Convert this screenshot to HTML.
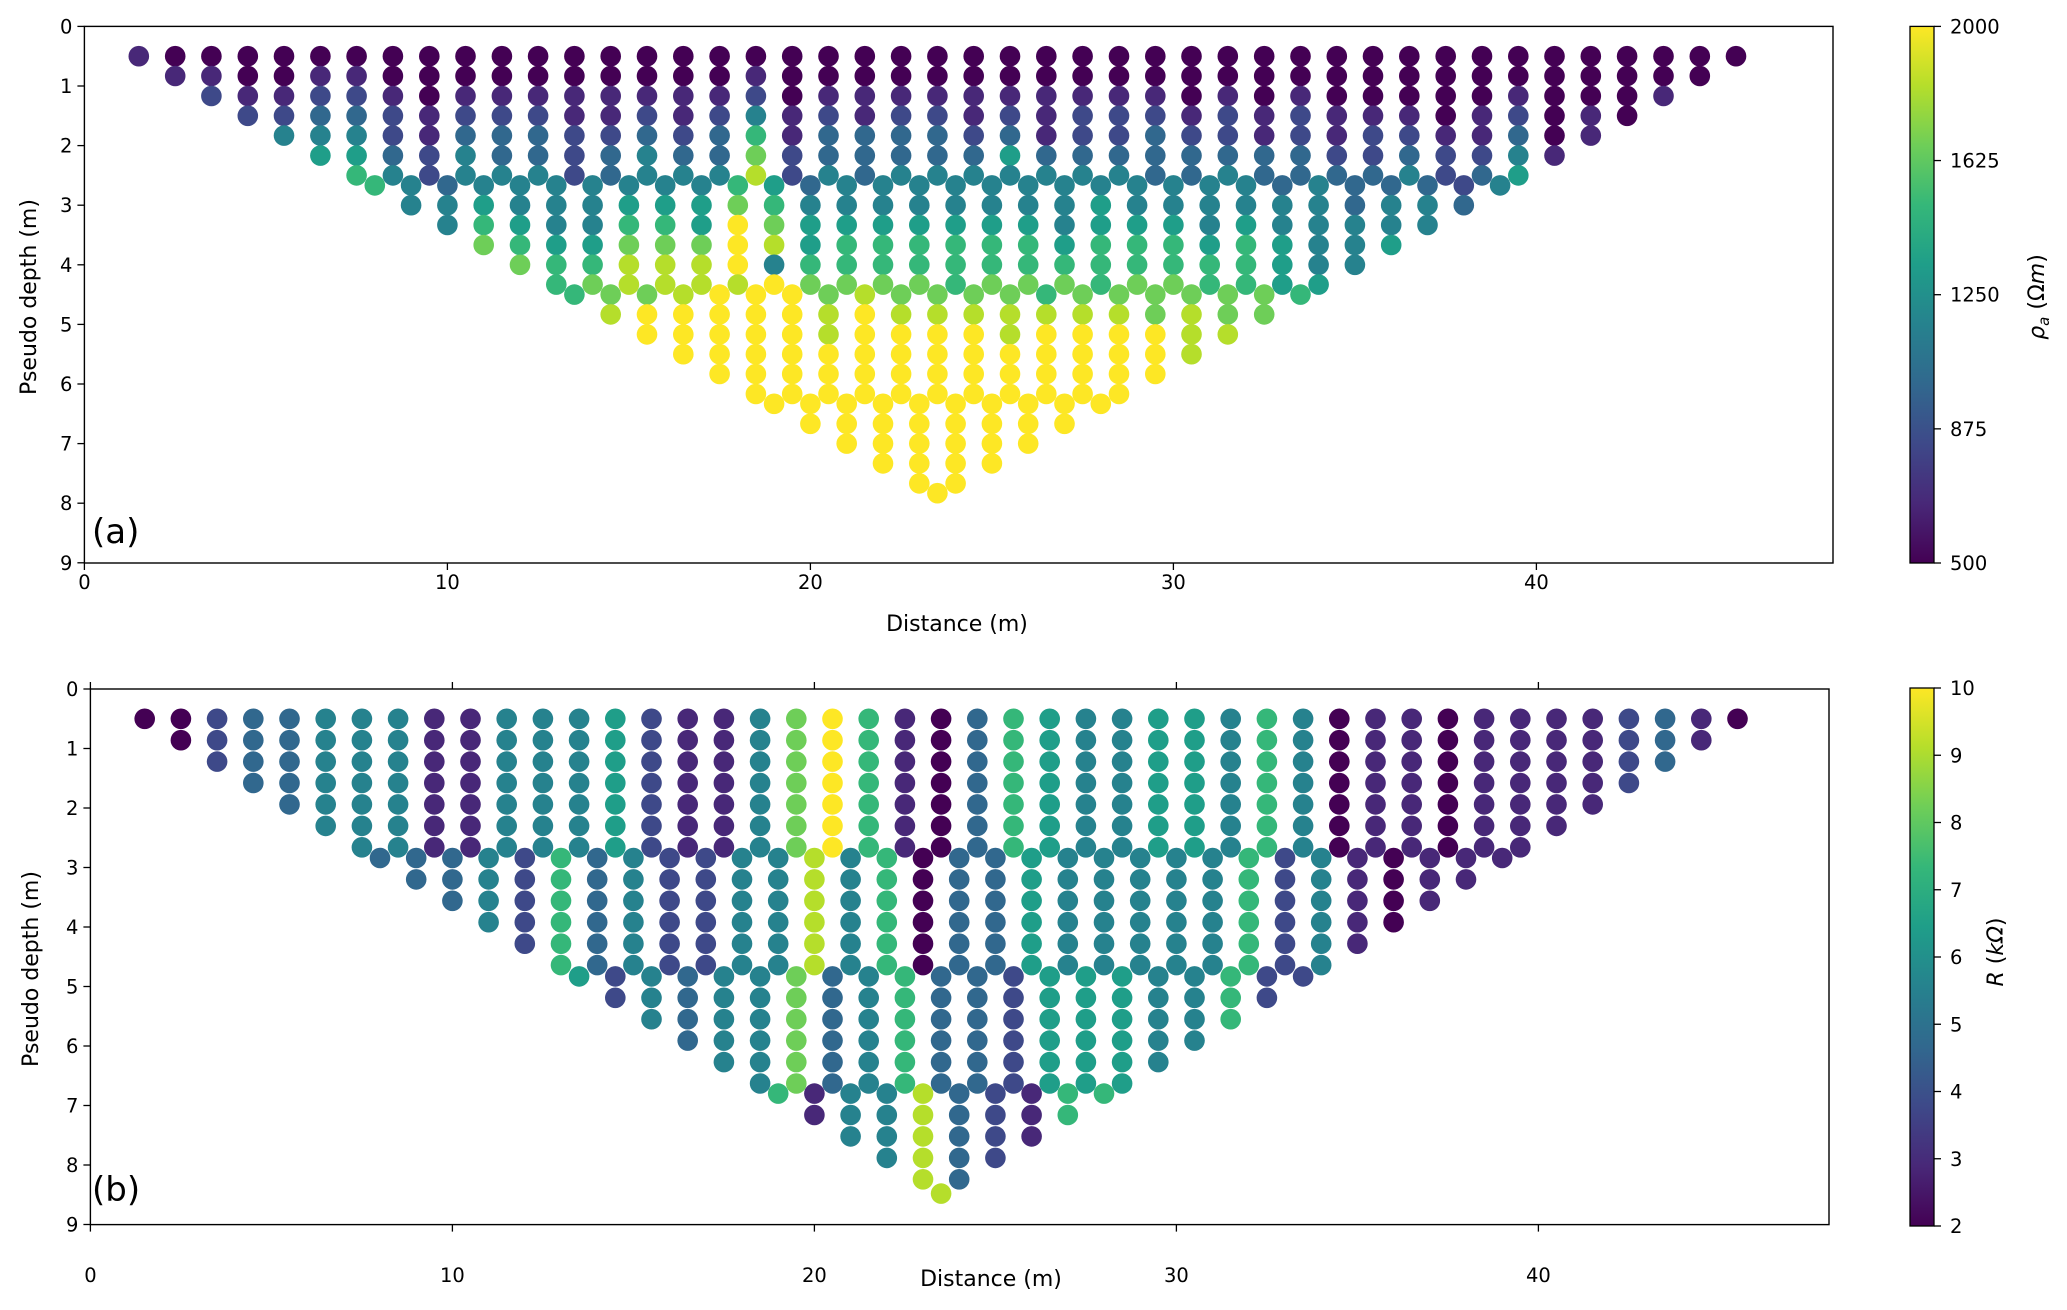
<!DOCTYPE html>
<html><head><meta charset="utf-8"><style>
html,body{margin:0;padding:0;background:#fff;}
svg{display:block;font-family:"DejaVu Sans","Liberation Sans",sans-serif;}
</style></head><body>
<svg id="fig" width="2067" height="1310" viewBox="0 0 2067 1310" xmlns="http://www.w3.org/2000/svg">
<defs>
<linearGradient id="vir" x1="0" y1="1" x2="0" y2="0">
<stop offset="0" stop-color="#440154"/><stop offset="0.111" stop-color="#482878"/><stop offset="0.222" stop-color="#3e4989"/><stop offset="0.333" stop-color="#31688e"/><stop offset="0.444" stop-color="#26828e"/><stop offset="0.556" stop-color="#1f9e89"/><stop offset="0.667" stop-color="#35b779"/><stop offset="0.778" stop-color="#6ece58"/><stop offset="0.889" stop-color="#b5de2b"/><stop offset="1" stop-color="#fde725"/>
</linearGradient>
</defs>
<g id="panelA"></g>
<g id="panelB"></g>
</svg>
<script>
// ---------- data ----------
const aRowDepth = [0.5,0.833,1.167,1.5,1.833,2.167,2.5, 2.667,3,3.333,3.667,4,4.333, 4.5,4.833,5.167,5.5,5.833,6.167, 6.333,6.667,7,7.333,7.667, 7.833];
const aRowStart = [1.5,2.5,3.5,4.5,5.5,6.5,7.5, 8,9,10,11,12,13, 13.5,14.5,15.5,16.5,17.5,18.5, 19,20,21,22,23, 23.5];
// levels 0..9 -> 500..2000 Ohm m
const aRowLevels = [
"10000 00000 00000 00000 00000 00000 00000 00000 00000",
"11001 10000 00000 01000 00000 00000 00000 00000 000",
"21122 1 0 11111111 2 0 1111111111 0 1 0 1 0 0000 1 000 1",
"2233212221 1212412122 1212221212 111012010",
"4442133322 3236133332 3122322121 2211301",
"5532433234 3372333335 3333333322 32241",
"6424442344 4824344444 4433433334 235",
"6434444444 653 444444444444 3433324",
"44544455576 44444444 54444443443",
"4654466597 5555555 4 555 4 5 44444",
"7655777985 6666665666 565445",
"7668889466 6666666666 6544",
"6788889777 7677767766 55",
"6778999787 7776777777 6",
"8999998988 888887877",
"99999899998999988",
"999999999999998",
"9999999999999",
"99999999999",
"9999999999","99999999","999999","9999","99",
"9"];
const aMin = 500, aMax = 2000;
const aXTicks = [0,10,20,30,40];
const aYTicks = [0,1,2,3,4,5,6,7,8,9];
const aCbTicks = [500,875,1250,1625,2000];

// panel b: each group has constant value per column; row j of group uses columns j .. n-1-j
const bGroupDepths = [
 [0.5,0.86,1.22,1.58,1.94,2.3,2.66],
 [2.84,3.2,3.56,3.92,4.28,4.64],
 [4.83,5.19,5.55,5.91,6.27,6.63],
 [6.8,7.16,7.52,7.88,8.24],
 [8.48]];
const bGroupStart = [1.5, 8, 13.5, 19, 23.5];
// levels 0..9 -> 2..10 kOhm
const bGroupColumns = [
 "0023344411 4445211479 6103654455 4640110111 12310",
 "3334263422 4484603354 4444624101 11",
 "5243447346 3325554462 2",
 "6144832166",
 "8"];
const bMin = 2, bMax = 10;
const bXTicks = [0,10,20,30,40];
const bYTicks = [0,1,2,3,4,5,6,7,8,9];
const bCbTicks = [2,3,4,5,6,7,8,9,10];

// ---------- helpers ----------
const NS = "http://www.w3.org/2000/svg";
const VIR = ['#440154','#482878','#3e4989','#31688e','#26828e','#1f9e89','#35b779','#6ece58','#b5de2b','#fde725'];
function hex(c){return [parseInt(c.slice(1,3),16),parseInt(c.slice(3,5),16),parseInt(c.slice(5,7),16)];}
function viridis(t){t=Math.max(0,Math.min(1,t));const p=t*9;const i=Math.min(8,Math.floor(p));const f=p-i;const a=hex(VIR[i]),b=hex(VIR[i+1]);
 return 'rgb('+a.map((v,k)=>Math.round(v+(b[k]-v)*f)).join(',')+')';}
function mk(tag, attrs, parent){const e=document.createElementNS(NS,tag);for(const k in attrs)e.setAttribute(k,attrs[k]);parent.appendChild(e);return e;}
function digits(s){return s.replace(/\s+/g,'').split('').map(Number);}

const A = {g:document.getElementById('panelA'), x0:84.4, sx:36.3, y0:26.4, sy:59.6, left:84.4, right:1833, top:26.4, bottom:563, cbx:1910, cbw:24, cbTop:26.4, cbBot:563};
const B = {g:document.getElementById('panelB'), x0:90.4, sx:36.2, y0:689, sy:59.5, left:90.4, right:1829, top:689, bottom:1224.6, cbx:1910, cbw:24, cbTop:688, cbBot:1226};
function xs(P,v){return P.x0+P.sx*v;}
function ys(P,d){return P.y0+P.sy*d;}

function dot(P, x, d, val, vmin, vmax){
 const c=mk('circle',{cx:xs(P,x).toFixed(1),cy:ys(P,d).toFixed(1),r:10.3,fill:viridis((val-vmin)/(vmax-vmin))},P.g);
 
 
}

// ---------- panel A points ----------
aRowLevels.forEach((s,r)=>{
 digits(s).forEach((lv,i)=>{
  const val = aMin + lv*(aMax-aMin)/9;
  dot(A, aRowStart[r]+i, aRowDepth[r], val, aMin, aMax);
 });
});
// ---------- panel B points ----------
bGroupColumns.forEach((s,g)=>{
 const cols = digits(s);
 const n = cols.length;
 bGroupDepths[g].forEach((d,j)=>{
  for(let i=j;i<n-j;i++){
   const val = bMin + cols[i]*(bMax-bMin)/9;
   dot(B, bGroupStart[g]+i, d, val, bMin, bMax);
  }
 });
});

// ---------- axes ----------
function text(P, x, y, str, size, anchor, name, rot){
 const t=mk('text',{x:x,y:y,'font-size':size,'text-anchor':anchor||'middle',fill:'#000'},P.g);
 if(rot) t.setAttribute('transform','rotate(-90 '+x+' '+y+')');
 t.textContent=str;
 
 
 return t;
}
function axes(P, xticks, yticks, labelY, topTicks){
 const fr=mk('rect',{x:P.left,y:P.top,width:P.right-P.left,height:P.bottom-P.top,fill:'none',stroke:'#000','stroke-width':1.4},P.g);
 
 
 xticks.forEach(v=>{
  const x=xs(P,v);
  const tk=mk('line',{x1:x,x2:x,y1:P.bottom,y2:P.bottom+7,stroke:'#000','stroke-width':1.3},P.g);
  
  
  if(topTicks){
   const tt=mk('line',{x1:x,x2:x,y1:P.top,y2:P.top-7,stroke:'#000','stroke-width':1.3},P.g);
   
   
  }
  text(P,x,labelY,String(v),19.5,'middle','x-tick-label');
 });
 yticks.forEach(v=>{
  const y=ys(P,v);
  const tk=mk('line',{x1:P.left-7,x2:P.left,y1:y,y2:y,stroke:'#000','stroke-width':1.3},P.g);
  
  
  text(P,P.left-12,y+7,String(v),19.5,'end','y-tick-label');
 });
}
axes(A, aXTicks, aYTicks, 589, false);
axes(B, bXTicks, bYTicks, 1282, true);
text(A, 957, 631, 'Distance (m)', 22, 'middle', 'x-axis-title');
text(B, 991, 1286, 'Distance (m)', 22, 'middle', 'x-axis-title');
text(A, 36, 297, 'Pseudo depth (m)', 22, 'middle', 'y-axis-title', true);
text(B, 38, 969, 'Pseudo depth (m)', 22, 'middle', 'y-axis-title', true);
text(A, 92, 543, '(a)', 34, 'start', 'panel-label');
text(B, 92, 1201, '(b)', 34, 'start', 'panel-label');

// ---------- colorbars ----------
function colorbar(P, ticks, vmin, vmax){
 const r=mk('rect',{x:P.cbx,y:P.cbTop,width:P.cbw,height:P.cbBot-P.cbTop,fill:'url(#vir)',stroke:'#000','stroke-width':1.3},P.g);
 
 
 ticks.forEach(v=>{
  const y=P.cbBot-(v-vmin)/(vmax-vmin)*(P.cbBot-P.cbTop);
  const tk=mk('line',{x1:P.cbx+P.cbw,x2:P.cbx+P.cbw+7,y1:y,y2:y,stroke:'#000','stroke-width':1.3},P.g);
  
  
  text(P,P.cbx+P.cbw+16,y+7,String(v),19.5,'start','colorbar-tick-label');
 });
}
colorbar(A, aCbTicks, aMin, aMax);
colorbar(B, bCbTicks, bMin, bMax);

// colorbar titles
(function(){
 const t=mk('text',{x:2044,y:297,'font-size':22,'text-anchor':'middle',transform:'rotate(-90 2044 297)'},A.g);
 
 
 t.innerHTML='<tspan font-style="italic">ρ</tspan><tspan font-style="italic" font-size="15" dy="5">a</tspan><tspan dy="-5"> (Ω</tspan><tspan font-style="italic">m</tspan>)';
 const t2=mk('text',{x:2003,y:952,'font-size':22,'text-anchor':'middle',transform:'rotate(-90 2003 952)'},B.g);
 
 
 t2.innerHTML='<tspan font-style="italic">R</tspan> (<tspan font-style="italic">k</tspan><tspan font-style="italic">Ω</tspan>)';
})();
</script>
</body></html>
